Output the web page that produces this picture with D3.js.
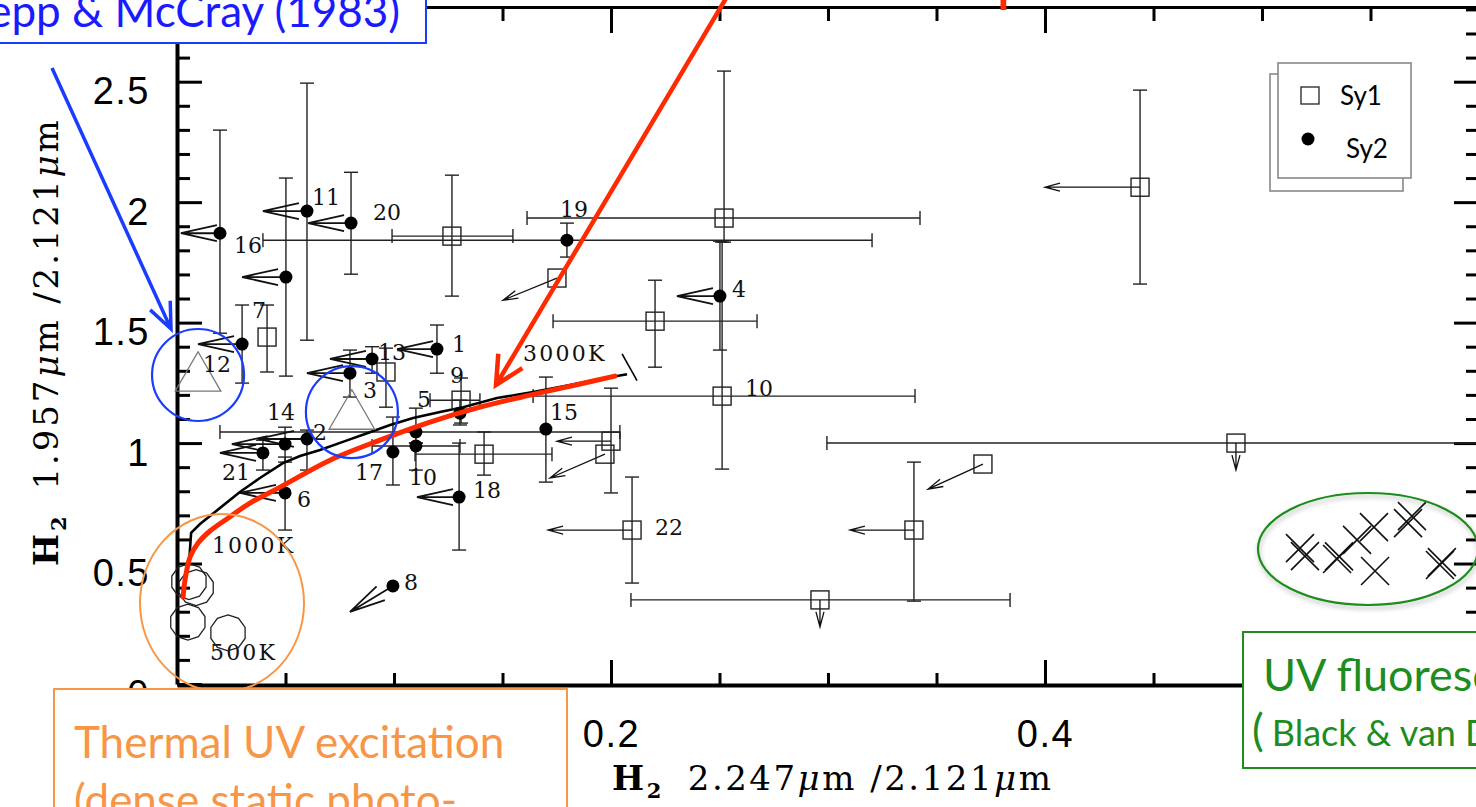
<!DOCTYPE html>
<html>
<head>
<meta charset="utf-8">
<script src="https://cdn.jsdelivr.net/npm/d3@7"></script>
<style>
  html, body { margin: 0; padding: 0; background: #fff; }
  svg { display: block; }
</style>
</head>
<body>
<svg id="chart" width="1476" height="807"></svg>
<script>
// ---------------- data ----------------
// Seyfert 2 nuclei: line ratios, error ranges and upper-limit arrow targets
const sy2Points = [
  { label: "16", x: 0.0198, y: 1.871, yLo: 1.456, yHi: 2.299, limTo: [0.0018, 1.871] },
  { label: "11", x: 0.0599, y: 1.963, yLo: 1.427, yHi: 2.494, limTo: [0.0396, 1.963] },
  { label: "20", x: 0.0802, y: 1.913, yLo: 1.701, yHi: 2.124, limTo: [0.0604, 1.913] },
  { label: "",   x: 0.0502, y: 1.689, yLo: 1.278, yHi: 2.100, limTo: [0.0300, 1.689] },
  { label: "19", x: 0.1797, y: 1.842, yLo: 1.772, yHi: 1.913, xLo: 0.0396, xHi: 0.3203 },
  { label: "4",  x: 0.2502, y: 1.610, yLo: 1.386, yHi: 1.838, limTo: [0.2304, 1.610] },
  { label: "1",  x: 0.1198, y: 1.390, yLo: 1.290, yHi: 1.490, limTo: [0.1014, 1.390] },
  { label: "13", x: 0.0899, y: 1.349, yLo: 1.290, yHi: 1.400, limTo: [0.0705, 1.349] },
  { label: "3",  x: 0.0797, y: 1.290, yLo: 1.191, yHi: 1.386, limTo: [0.0599, 1.290] },
  { label: "",   x: 0.0300, y: 1.411, yLo: 1.249, yHi: 1.573, limTo: [0.0097, 1.411] },
  { label: "14", x: 0.0498, y: 0.996, yLo: 0.921, yHi: 1.066, limTo: [0.0253, 0.996] },
  { label: "2",  x: 0.0599, y: 1.017, yLo: 0.888, yHi: 1.054, limTo: [0.0373, 1.017] },
  { label: "21", x: 0.0396, y: 0.959, yLo: 0.888, yHi: 1.012, limTo: [0.0198, 0.959] },
  { label: "17", x: 0.0995, y: 0.963, yLo: 0.826, yHi: 1.108 },
  { label: "",   x: 0.1101, y: 1.046, yLo: 1.000, yHi: 1.145, xLo: 0.0198, xHi: 0.2041 },
  { label: "10", x: 0.1101, y: 0.988, yLo: 0.888, yHi: 1.000, xLo: 0.0899, xHi: 0.1304 },
  { label: "5",  x: 0.1304, y: 1.124, yLo: 1.075, yHi: 1.178 },
  { label: "15", x: 0.1700, y: 1.058, yLo: 0.838, yHi: 1.274 },
  { label: "6",  x: 0.0498, y: 0.793, yLo: 0.639, yHi: 0.942, limTo: [0.0290, 0.793] },
  { label: "18", x: 0.1300, y: 0.776, yLo: 0.556, yHi: 1.000, limTo: [0.1106, 0.776] },
  { label: "8",  x: 0.0995, y: 0.407, limTo: [0.0797, 0.299] }
];

// Seyfert 1 nuclei
const sy1Points = [
  { label: "",   x: 0.1267, y: 1.859, yLo: 1.610, yHi: 2.112, xLo: 0.0991, xHi: 0.1548 },
  { label: "",   x: 0.1751, y: 1.685, limTo: [0.1502, 1.593] },
  { label: "",   x: 0.2521, y: 1.934, yLo: 1.834, yHi: 2.544, xLo: 0.1613, xHi: 0.3424 },
  { label: "",   x: 0.2203, y: 1.506, yLo: 1.315, yHi: 1.676, xLo: 0.1733, xHi: 0.2673 },
  { label: "10", x: 0.2512, y: 1.195, yLo: 0.892, yHi: 1.834, xLo: 0.1641, xHi: 0.3401 },
  { label: "7",  x: 0.0415, y: 1.440, yLo: 1.295, yHi: 1.573 },
  { label: "",   x: 0.0963, y: 1.295, yLo: 1.149, yHi: 1.394 },
  { label: "9",  x: 0.1309, y: 1.178, yLo: 1.083, yHi: 1.270, xLo: 0.1166, xHi: 0.1396 },
  { label: "",   x: 0.1415, y: 0.954, yLo: 0.867, yHi: 1.046, xLo: 0.1097, xHi: 0.1728 },
  { label: "",   x: 0.2000, y: 1.008, yLo: 0.793, yHi: 1.228, limTo: [0.1751, 1.008] },
  { label: "",   x: 0.1972, y: 0.954, limTo: [0.1719, 0.855] },
  { label: "22", x: 0.2097, y: 0.639, yLo: 0.419, yHi: 0.859, limTo: [0.1710, 0.639] },
  { label: "",   x: 0.3714, y: 0.913, limTo: [0.3461, 0.809] },
  { label: "",   x: 0.3396, y: 0.639, yLo: 0.344, yHi: 0.921, limTo: [0.3101, 0.639] },
  { label: "",   x: 0.2963, y: 0.349, xLo: 0.2092, xHi: 0.3839, limTo: [0.2963, 0.237] },
  { label: "",   x: 0.4880, y: 1.000, xLo: 0.2995, xHi: 0.6005, limTo: [0.4880, 0.888] },
  { label: "",   x: 0.4438, y: 2.062, yLo: 1.660, yHi: 2.465, limTo: [0.4000, 2.062] }
];

// Lepp & McCray (1983) X-ray heating models
const leppModels = [
  { label: "12", x: 0.0097, y: 1.270 },
  { label: "",   x: 0.0806, y: 1.112 }
];

// thermal emission track (500 K -> 3000 K)
const thermalTrack = [
  [0.0055, 0.494], [0.0065, 0.627], [0.0106, 0.664], [0.0175, 0.714], [0.0290, 0.797],
  [0.0382, 0.855], [0.0488, 0.917], [0.0567, 0.946], [0.0659, 0.971], [0.0774, 1.008],
  [0.0876, 1.041], [0.0982, 1.075], [0.1088, 1.104], [0.1212, 1.129], [0.1318, 1.149],
  [0.1475, 1.187], [0.1641, 1.212], [0.1811, 1.241], [0.1949, 1.266], [0.2074, 1.286]
];
const thermalEndTick = [[0.2051, 1.370], [0.2120, 1.259]];
const tempLabels = [
  { text: "3000K", x: 0.1595, y: 1.340 },
  { text: "1000K", x: 0.0161, y: 0.544 },
  { text: "500K",  x: 0.0152, y: 0.100 }
];

// low-temperature thermal models (open circles)
const coolModels = [
  { x: 0.0088, y: 0.400 }, { x: 0.0055, y: 0.425 },
  { x: 0.0050, y: 0.257 }, { x: 0.0235, y: 0.212 }
];

// highlighted thermal curve
const thermalHighlight = [
  [0.0028, 0.361], [0.0037, 0.432], [0.0060, 0.527], [0.0097, 0.585], [0.0152, 0.635],
  [0.0230, 0.685], [0.0336, 0.751], [0.0475, 0.817], [0.0705, 0.929], [0.0935, 1.012],
  [0.1166, 1.087], [0.1396, 1.149], [0.1627, 1.199], [0.1857, 1.245], [0.2018, 1.278]
];

// UV fluorescence models (Black & van Dishoeck 1987)
const fluorModels = [
  [0.5198, 0.531], [0.5175, 0.564], [0.5346, 0.519], [0.5355, 0.530], [0.5438, 0.598],
  [0.5516, 0.651], [0.5521, 0.469], [0.5673, 0.668], [0.5691, 0.697], [0.5820, 0.494],
  [0.5829, 0.506]
];

const xMajorTicks = [0.2, 0.4];
const xMinorTicks = [0.05, 0.1, 0.15, 0.25, 0.3, 0.35, 0.45, 0.5, 0.55];
const yMajorTicks = [0, 0.5, 1, 1.5, 2, 2.5];
const yMinorTicks = [0.1, 0.2, 0.3, 0.4, 0.6, 0.7, 0.8, 0.9, 1.1, 1.2, 1.3, 1.4,
                     1.6, 1.7, 1.8, 1.9, 2.1, 2.2, 2.3, 2.4, 2.6, 2.7, 2.8];

// label placement (pixel nudges from the marker)
const labelNudge = {
  sy2: { "16": [14, 20], "11": [5, -6], "20": [22, -3], "19": [-7, -23], "4": [12, 1],
         "1": [15, 3], "13": [6, 1], "3": [13, 25], "14": [-18, -24], "2": [6, 1],
         "21": [-41, 27], "17": [-38, 28], "10": [-7, 39], "5": [-43, -6], "15": [4, -9],
         "6": [12, 14], "18": [14, 1], "8": [11, 4] },
  sy1: { "10": [23, 0], "7": [-15, -19], "9": [-11, -17], "22": [23, 5] },
  lepp: { "12": [5, -6] }
};

// ---------------- chart ----------------
const svg = d3.select("#chart");
const x = d3.scaleLinear().domain([0, 0.6]).range([177, 1479]);
const y = d3.scaleLinear().domain([0, 2.81]).range([684, 7]);

const serif = "'DejaVu Serif', 'Liberation Serif', serif";
const sans = "'Liberation Sans', Arial, sans-serif";
const callout = "Lato, 'Open Sans', sans-serif";

const defs = svg.append("defs");
const shadow = defs.append("filter").attr("id", "soft").attr("x", "-20%").attr("y", "-20%")
  .attr("width", "140%").attr("height", "150%");
shadow.append("feGaussianBlur").attr("in", "SourceAlpha").attr("stdDeviation", 2.5).attr("result", "b");
shadow.append("feOffset").attr("in", "b").attr("dx", 1).attr("dy", 3).attr("result", "o");
shadow.append("feComponentTransfer").attr("in", "o").attr("result", "s")
  .append("feFuncA").attr("type", "linear").attr("slope", 0.3);
const merge = shadow.append("feMerge");
merge.append("feMergeNode").attr("in", "s");
merge.append("feMergeNode").attr("in", "SourceGraphic");

// axes
function styleAxis(g, width) {
  g.select(".domain").attr("stroke", "#000").attr("stroke-width", width);
  g.selectAll(".tick line").attr("stroke", "#000").attr("stroke-width", 3);
}
function minorStyle(g) {
  g.select(".domain").remove();
  g.selectAll("line").attr("stroke", "#000").attr("stroke-width", 3);
}
const axes = svg.append("g");

const yLeft = axes.append("g").attr("transform", `translate(${x(0)},0)`)
  .call(d3.axisLeft(y).tickValues(yMajorTicks).tickSizeInner(-25).tickSizeOuter(0)
    .tickPadding(27).tickFormat(d3.format("~g")));
styleAxis(yLeft, 4);
yLeft.selectAll("text").attr("font-family", sans).attr("font-size", 38).attr("fill", "#000")
  .attr("dy", "0.58em").attr("letter-spacing", 1.5);
axes.append("g").attr("transform", `translate(${x(0)},0)`)
  .call(d3.axisLeft(y).tickValues(yMinorTicks).tickSizeInner(-13).tickSizeOuter(0).tickFormat(""))
  .call(minorStyle);

const yRight = axes.append("g").attr("transform", `translate(${x(0.6)},0)`)
  .call(d3.axisRight(y).tickValues(yMajorTicks).tickSizeInner(-25).tickSizeOuter(0).tickFormat(""));
styleAxis(yRight, 4);
axes.append("g").attr("transform", `translate(${x(0.6)},0)`)
  .call(d3.axisRight(y).tickValues(yMinorTicks).tickSizeInner(-13).tickSizeOuter(0).tickFormat(""))
  .call(minorStyle);

const xTop = axes.append("g").attr("transform", `translate(0,${y(2.81)})`)
  .call(d3.axisTop(x).tickValues(xMajorTicks).tickSizeInner(-26).tickSizeOuter(0).tickFormat(""));
styleAxis(xTop, 3);
axes.append("g").attr("transform", `translate(0,${y(2.81)})`)
  .call(d3.axisTop(x).tickValues(xMinorTicks).tickSizeInner(-14).tickSizeOuter(0).tickFormat(""))
  .call(minorStyle);

const xBottom = axes.append("g").attr("transform", `translate(0,${y(0) + 1})`)
  .call(d3.axisBottom(x).tickValues(xMajorTicks).tickSizeInner(-25).tickSizeOuter(0)
    .tickPadding(36).tickFormat(d3.format("~g")));
styleAxis(xBottom, 4);
xBottom.selectAll("text").attr("font-family", sans).attr("font-size", 38).attr("fill", "#000")
  .attr("letter-spacing", 1.5).attr("dy", "0.68em");
axes.append("g").attr("transform", `translate(0,${y(0) + 1})`)
  .call(d3.axisBottom(x).tickValues(xMinorTicks).tickSizeInner(-12).tickSizeOuter(0).tickFormat(""))
  .call(minorStyle);

// axis titles
function ratioTitle(sel, line) {
  sel.append("tspan").text("H").attr("font-weight", "bold");
  sel.append("tspan").text("2").attr("font-size", 21).attr("font-weight", "bold").attr("dy", 8);
  sel.append("tspan").text(line).attr("dy", -8).attr("dx", 24);
  sel.append("tspan").text("μ").attr("font-style", "italic");
  sel.append("tspan").text("m /2.121");
  sel.append("tspan").text("μ").attr("font-style", "italic");
  sel.append("tspan").text("m");
}
const xTitle = svg.append("text").attr("x", 612).attr("y", 790)
  .attr("font-family", serif).attr("font-size", 34).attr("letter-spacing", 2.5).attr("fill", "#000");
ratioTitle(xTitle, "2.247");
const yTitle = svg.append("text").attr("transform", "translate(58,566) rotate(-90)")
  .attr("font-family", serif).attr("font-size", 34).attr("letter-spacing", 2.9).attr("fill", "#000");
ratioTitle(yTitle, "1.957");

// error bars
const bars = svg.append("g").attr("stroke", "#222").attr("stroke-width", 1.4).attr("fill", "none");
function drawErrors(points) {
  points.forEach(p => {
    if (p.yLo !== undefined) {
      bars.append("line").attr("x1", x(p.x)).attr("x2", x(p.x)).attr("y1", y(p.yLo)).attr("y2", y(p.yHi));
      [p.yLo, p.yHi].forEach(v => bars.append("line")
        .attr("x1", x(p.x) - 7).attr("x2", x(p.x) + 7).attr("y1", y(v)).attr("y2", y(v)));
    }
    if (p.xLo !== undefined) {
      bars.append("line").attr("x1", x(p.xLo)).attr("x2", x(p.xHi)).attr("y1", y(p.y)).attr("y2", y(p.y));
      [p.xLo, p.xHi].forEach(v => bars.append("line")
        .attr("x1", x(v)).attr("x2", x(v)).attr("y1", y(p.y) - 7).attr("y2", y(p.y) + 7));
    }
  });
}
drawErrors(sy2Points);
drawErrors(sy1Points);

// limit arrows
function arrowPath(x1, y1, x2, y2, len, half) {
  const a = Math.atan2(y2 - y1, x2 - x1);
  const bx = x2 - len * Math.cos(a), by = y2 - len * Math.sin(a);
  const nx = -Math.sin(a) * half, ny = Math.cos(a) * half;
  return `M${x1},${y1}L${x2},${y2}M${bx + nx},${by + ny}L${x2},${y2}L${bx - nx},${by - ny}`;
}
const arrows = svg.append("g").attr("fill", "none").attr("stroke", "#111");
sy2Points.filter(p => p.limTo).forEach(p => {
  arrows.append("path").attr("stroke-width", 1.8)
    .attr("d", arrowPath(x(p.x), y(p.y), x(p.limTo[0]), y(p.limTo[1]), 36, 8));
});
sy1Points.filter(p => p.limTo).forEach(p => {
  arrows.append("path").attr("stroke-width", 1.3)
    .attr("d", arrowPath(x(p.x), y(p.y), x(p.limTo[0]), y(p.limTo[1]), 15, 4));
});

// thermal track and temperature labels
const line = d3.line().x(d => x(d[0])).y(d => y(d[1]));
svg.append("path").datum(thermalTrack).attr("d", line)
  .attr("fill", "none").attr("stroke", "#000").attr("stroke-width", 2.6);
svg.append("path").datum(thermalEndTick).attr("d", line)
  .attr("fill", "none").attr("stroke", "#000").attr("stroke-width", 1.6);
svg.append("g").selectAll("text").data(tempLabels).join("text")
  .attr("x", d => x(d.x)).attr("y", d => y(d.y)).text(d => d.text)
  .attr("font-family", serif).attr("font-size", 22).attr("letter-spacing", 2.2).attr("fill", "#111");

// cool-model circles (drawn as polygons like the plotting symbol)
const polygon = d3.lineRadial().curve(d3.curveLinearClosed);
svg.append("g").selectAll("path").data(coolModels).join("path")
  .attr("transform", d => `translate(${x(d.x)},${y(d.y)})`)
  .attr("d", polygon(d3.range(10).map(i => [i * Math.PI / 5, 18])))
  .attr("fill", "none").attr("stroke", "#222").attr("stroke-width", 1.3);

// Lepp & McCray triangles
const tri = d3.symbol().type(d3.symbolTriangle).size(900);
svg.append("g").selectAll("path").data(leppModels).join("path")
  .attr("transform", d => `translate(${x(d.x)},${y(d.y)})`)
  .attr("d", tri()).attr("fill", "none").attr("stroke", "#777").attr("stroke-width", 1.3);

// Sy1 squares
svg.append("g").selectAll("rect").data(sy1Points).join("rect")
  .attr("x", d => x(d.x) - 9).attr("y", d => y(d.y) - 9).attr("width", 18).attr("height", 18)
  .attr("fill", "none").attr("stroke", "#222").attr("stroke-width", 1.4);

// Sy2 dots
svg.append("g").selectAll("circle").data(sy2Points).join("circle")
  .attr("cx", d => x(d.x)).attr("cy", d => y(d.y)).attr("r", 6.5).attr("fill", "#000");

// fluorescence models
const crossG = svg.append("g").attr("stroke", "#111").attr("stroke-width", 1.6);
fluorModels.forEach(d => {
  const cx = x(d[0]), cy = y(d[1]), s = 14;
  crossG.append("path").attr("d", `M${cx - s},${cy - s}L${cx + s},${cy + s}M${cx - s},${cy + s}L${cx + s},${cy - s}`);
});

// point labels
const labels = svg.append("g").attr("font-family", serif).attr("font-size", 22).attr("fill", "#111");
function drawLabels(points, nudge) {
  points.filter(p => p.label).forEach(p => {
    const n = nudge[p.label] || [8, 0];
    labels.append("text").attr("x", x(p.x) + n[0]).attr("y", y(p.y) + n[1]).text(p.label);
  });
}
drawLabels(sy2Points, labelNudge.sy2);
drawLabels(sy1Points, labelNudge.sy1);
drawLabels(leppModels, labelNudge.lepp);

// ---------------- annotations ----------------
// highlighted thermal curve
svg.append("path").datum(thermalHighlight).attr("d", d3.line().curve(d3.curveCatmullRom).x(d => x(d[0])).y(d => y(d[1])))
  .attr("fill", "none").attr("stroke", "#ff2a00").attr("stroke-width", 5).attr("stroke-linecap", "round");

// red pointer from the caption above the frame
svg.append("path").attr("d", arrowPath(728, -5, 496, 385, 28, 14))
  .attr("fill", "none").attr("stroke", "#ff2a00").attr("stroke-width", 4.5).attr("stroke-linejoin", "miter");
const redCaption = "Shocked clumps";
const redCap = svg.append("text").attr("y", -1)
  .attr("font-family", callout).attr("font-size", 64).attr("fill", "#ff2a00").text(redCaption);
// set the caption so the descender of its "p" falls just inside the top edge
{
  const node = redCap.node();
  const before = node.getSubStringLength(0, redCaption.indexOf("p"));
  redCap.attr("x", 996 - before);
}

// blue circles around the X-ray heating models
svg.append("g").selectAll("circle").data(leppModels).join("circle")
  .attr("cx", d => x(d.x)).attr("cy", (d, i) => y(d.y) + (i ? -4 : -3)).attr("r", 46)
  .attr("fill", "none").attr("stroke", "#1a3cff").attr("stroke-width", 2.2);
svg.append("path").attr("d", arrowPath(52, 68, 171, 329, 26, 11))
  .attr("fill", "none").attr("stroke", "#1a3cff").attr("stroke-width", 3.5);
svg.append("rect").attr("x", -10).attr("y", -10).attr("width", 436).attr("height", 53)
  .attr("fill", "#fff").attr("stroke", "#1a3cff").attr("stroke-width", 2);
svg.append("text").attr("x", 400).attr("y", 27).attr("text-anchor", "end")
  .attr("font-family", callout).attr("font-size", 44).attr("fill", "#1a1aff").text("Lepp & McCray (1983)");

// orange ellipse and box: thermal UV excitation
svg.append("ellipse").attr("cx", 222).attr("cy", 603).attr("rx", 82).attr("ry", 89)
  .attr("fill", "none").attr("stroke", "#f79646").attr("stroke-width", 2);
svg.append("rect").attr("x", 54).attr("y", 689).attr("width", 513).attr("height", 140)
  .attr("fill", "#fff").attr("stroke", "#f79646").attr("stroke-width", 2);
const orangeText = svg.append("text").attr("font-family", callout).attr("font-size", 44).attr("fill", "#f79646");
orangeText.append("tspan").attr("x", 74).attr("y", 758).text("Thermal UV excitation");
orangeText.append("tspan").attr("x", 74).attr("y", 816).text("(dense static photo-");

// green ellipse and box: UV fluorescence
svg.append("ellipse").attr("cx", 1368).attr("cy", 549).attr("rx", 110).attr("ry", 56)
  .attr("fill", "none").attr("stroke", "#1e8c1e").attr("stroke-width", 2.2).attr("filter", "url(#soft)");
svg.append("rect").attr("x", 1243).attr("y", 632).attr("width", 260).attr("height", 136)
  .attr("fill", "#fff").attr("stroke", "#1e8c1e").attr("stroke-width", 2);
svg.append("text").attr("x", 1263).attr("y", 691).attr("font-family", callout).attr("font-size", 45)
  .attr("fill", "#1e8c1e").text("UV fluorescence");
const greenSub = svg.append("text").attr("x", 1252).attr("y", 746).attr("font-family", callout).attr("fill", "#1e8c1e");
greenSub.append("tspan").attr("font-size", 44).text("(");
greenSub.append("tspan").attr("font-size", 36).attr("dx", 8).text("Black & van Dishoeck 1987)");

// legend
const legend = svg.append("g");
legend.append("rect").attr("x", 1270).attr("y", 74).attr("width", 133).attr("height", 117)
  .attr("fill", "#fff").attr("stroke", "#888").attr("stroke-width", 1.6);
legend.append("rect").attr("x", 1278).attr("y", 63).attr("width", 133).attr("height", 115)
  .attr("fill", "#fff").attr("stroke", "#888").attr("stroke-width", 1.6);
legend.append("rect").attr("x", 1301).attr("y", 87).attr("width", 18).attr("height", 17)
  .attr("fill", "none").attr("stroke", "#222").attr("stroke-width", 1.3);
legend.append("circle").attr("cx", 1308).attr("cy", 139).attr("r", 6.5).attr("fill", "#000");
legend.append("text").attr("x", 1340).attr("y", 105).attr("font-family", callout).attr("font-size", 26).text("Sy1");
legend.append("text").attr("x", 1346).attr("y", 158).attr("font-family", callout).attr("font-size", 26).text("Sy2");
</script>
</body>
</html>
